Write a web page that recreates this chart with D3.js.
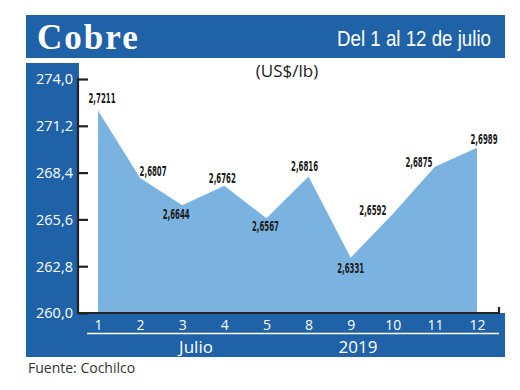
<!DOCTYPE html>
<html>
<head>
<meta charset="utf-8">
<script src="https://cdn.jsdelivr.net/npm/d3@7"></script>
<style>
  html, body { margin: 0; padding: 0; background: #fff; }
  svg { display: block; }
</style>
</head>
<body>
<div id="chart"></div>
<script>
// dias de julio 2019 y precio del cobre (US$/lb)
let days = ['1', '2', '3', '4', '5', '8', '9', '10', '11', '12'];
let prices = [2.7211, 2.6807, 2.6644, 2.6762, 2.6567, 2.6816, 2.6331, 2.6592, 2.6875, 2.6989];
let yTicks = [260.0, 262.8, 265.6, 268.4, 271.2, 274.0];
// donde va cada etiqueta respecto al punto
let labelOffsets = [[4, -8], [13, -2], [-6, 14], [-2, -3], [-1, 13], [-4, -6], [0, 15], [-20, 1], [-16, 0], [7, -4]];

function ready(fn) {
  if (document.readyState != 'loading'){
    fn();
  } else {
    document.addEventListener('DOMContentLoaded', fn);
  }
}

ready(main);

function main() {
  let W = 520, H = 390;
  let blue = '#1f62a8';
  let fillBlue = '#7ab3e0';

  let svg = d3.select('#chart').append('svg')
    .attr('width', W)
    .attr('height', H);

  // cabecera
  svg.append('rect')
    .attr('x', 26).attr('y', 15).attr('width', 479).attr('height', 43)
    .attr('fill', blue);
  svg.append('text')
    .attr('x', 37).attr('y', 49)
    .attr('fill', '#fff')
    .attr('font-family', 'Liberation Serif, serif')
    .attr('font-weight', 'bold')
    .attr('font-size', 35)
    .attr('letter-spacing', 2)
    .text('Cobre');
  svg.append('text')
    .attr('x', 491).attr('y', 46)
    .attr('text-anchor', 'end')
    .attr('fill', '#fff')
    .attr('font-family', 'Liberation Sans Narrow, Liberation Sans, sans-serif')
    .attr('font-size', 22)
    .attr('textLength', 154)
    .attr('lengthAdjust', 'spacingAndGlyphs')
    .text('Del 1 al 12 de julio');

  // panel azul en L + zona blanca del grafico
  svg.append('rect')
    .attr('x', 26).attr('y', 63).attr('width', 479).attr('height', 294)
    .attr('fill', blue);
  svg.append('rect')
    .attr('x', 79).attr('y', 63).attr('width', 426).attr('height', 250)
    .attr('fill', '#fff');

  let x = d3.scalePoint().domain(days).range([98, 477]);
  let y = d3.scaleLinear().domain([260, 274]).range([313, 79]);

  let pts = days.map((d, i) => ({day: d, v: prices[i] * 100, off: labelOffsets[i], label: d3.format('.4f')(prices[i]).replace('.', ',')}));

  let area = d3.area()
    .x(d => x(d.day))
    .y0(y(260))
    .y1(d => y(d.v));

  svg.append('path')
    .datum(pts)
    .attr('d', area)
    .attr('fill', fillBlue);

  // eje Y
  let yAxis = d3.axisRight(y)
    .tickValues(yTicks)
    .tickSize(10)
    .tickFormat('');
  let gy = svg.append('g')
    .attr('transform', 'translate(78,0)')
    .call(yAxis);
  gy.select('.domain').remove();
  gy.selectAll('line').attr('stroke', '#222').attr('stroke-width', 2.2);
  svg.append('line')
    .attr('x1', 78).attr('x2', 78)
    .attr('y1', y(274) - 1).attr('y2', y(260) + 1)
    .attr('stroke', '#222').attr('stroke-width', 2.2);

  svg.selectAll('.ylab')
    .data(yTicks)
    .enter().append('text')
    .attr('class', 'ylab')
    .attr('x', 73)
    .attr('y', d => y(d))
    .attr('dy', '0.36em')
    .attr('text-anchor', 'end')
    .attr('fill', '#fff')
    .attr('font-family', 'Open Sans, sans-serif')
    .attr('font-size', 15)
    .attr('textLength', 37)
    .attr('lengthAdjust', 'spacingAndGlyphs')
    .text(d => d3.format('.1f')(d).replace('.', ','));

  // eje X
  svg.append('path')
    .attr('d', 'M78,' + y(260) + 'H499V' + (y(260) - 6))
    .attr('fill', 'none')
    .attr('stroke', '#222')
    .attr('stroke-width', 2.2);

  let xAxis = d3.axisBottom(x).tickSize(0).tickPadding(0);
  let gx = svg.append('g')
    .attr('transform', 'translate(0,330)')
    .call(xAxis);
  gx.select('.domain').remove();
  gx.selectAll('text')
    .attr('fill', '#fff')
    .attr('dy', 0)
    .attr('font-family', 'Open Sans, sans-serif')
    .attr('font-size', 14);

  svg.append('line')
    .attr('x1', 87).attr('x2', 499)
    .attr('y1', 333.5).attr('y2', 333.5)
    .attr('stroke', '#fff').attr('stroke-width', 1.4);

  svg.append('text')
    .attr('x', 196).attr('y', 353)
    .attr('text-anchor', 'middle')
    .attr('fill', '#fff')
    .attr('font-family', 'Open Sans, sans-serif')
    .attr('font-size', 17)
    .text('Julio');
  svg.append('text')
    .attr('x', 358).attr('y', 353)
    .attr('text-anchor', 'middle')
    .attr('fill', '#fff')
    .attr('font-family', 'Open Sans, sans-serif')
    .attr('font-size', 17)
    .text('2019');

  // etiquetas de valores
  svg.selectAll('.vlab')
    .data(pts)
    .enter().append('text')
    .attr('class', 'vlab')
    .attr('x', d => x(d.day) + d.off[0])
    .attr('y', d => y(d.v) + d.off[1])
    .attr('text-anchor', 'middle')
    .attr('fill', '#1a1a1a')
    .attr('font-family', 'Liberation Sans Narrow, DejaVu Sans Condensed, sans-serif')
    .attr('font-weight', 'bold')
    .attr('font-size', 14)
    .attr('textLength', 27)
    .attr('lengthAdjust', 'spacingAndGlyphs')
    .text(d => d.label);

  svg.append('text')
    .attr('x', 287).attr('y', 77)
    .attr('text-anchor', 'middle')
    .attr('fill', '#222')
    .attr('font-family', 'Open Sans, sans-serif')
    .attr('font-size', 17)
    .text('(US$/lb)');

  svg.append('text')
    .attr('x', 28).attr('y', 373)
    .attr('fill', '#333')
    .attr('font-family', 'Open Sans, sans-serif')
    .attr('font-size', 14)
    .text('Fuente: Cochilco');
}
</script>
</body>
</html>
